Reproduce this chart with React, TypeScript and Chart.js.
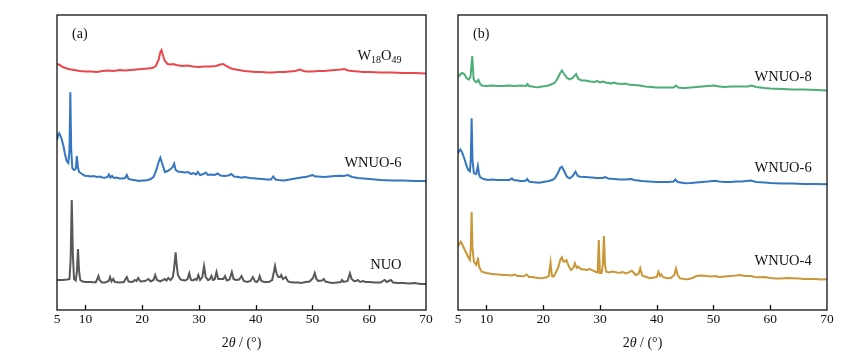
import React, { useEffect, useRef } from 'react';
import { Chart, registerables } from 'chart.js';

Chart.register(...registerables);

const X_MIN = 5;
const X_MAX = 70;
const tickValues = [5, 10, 20, 30, 40, 50, 60, 70];
const innerTicks = [10, 20, 30, 40, 50, 60];
const titleParts = ['2', 'θ', ' / (°)'];

// [2θ, stacked intensity] panel (a)
const w18o49 = [[5,246],[5.5,245],[6,243],[7,241],[8,240],[9,239],[10,238.5],[11,238.5],[12,238],[13,239],[14,239.5],[15,239],[16,240],[17,239.5],[18,240],[19,240.5],[20,241],[21,241.5],[21.8,242],[22.4,244],[22.9,250],[23.2,258],[23.4,260],[23.7,254],[24.0,249],[24.5,246],[25,245.5],[25.5,246],[26,245],[27,244],[28,244.5],[29,243.5],[30,243],[31,243.5],[32,243.5],[33,244],[33.8,245.5],[34.3,246],[34.8,244],[35.5,242],[36,241],[37,240],[38,239],[39,238.5],[40,238],[41,238],[42,237.5],[43,237.5],[44,238],[45,238],[46,238.5],[47,239],[47.8,240.5],[48.4,239],[49,238.5],[50,238.5],[51,239],[52,239],[53,239.5],[54,240],[55,240.5],[55.6,241],[56.3,239.5],[57,239],[58,238.5],[59,238],[60,238],[62,237.5],[64,237.5],[66,237],[68,237],[70,236.5]];
const wnuo6a = [[5,170],[5.2,175],[5.4,176.7],[5.7,173],[6.1,165],[6.4,156],[6.7,149],[7.0,147],[7.2,160],[7.35,217.7],[7.5,160],[7.7,142],[8.0,140],[8.3,141],[8.5,154],[8.7,142],[8.9,138],[9.4,136],[9.9,134.3],[10.5,134],[11,133.5],[11.5,134],[12,133],[12.5,133.5],[13,132.5],[13.4,132.3],[13.9,133],[14.15,135.5],[14.4,132.5],[14.7,134],[15,132],[15.5,132.5],[16,131.5],[16.5,131.5],[17,132],[17.3,135],[17.6,131],[18,130.5],[18.5,130],[19,129.5],[19.5,129],[20,129.5],[20.5,129.5],[21,130],[21.5,131],[22,133],[22.5,140],[22.9,148],[23.2,152.3],[23.5,147],[24,138],[24.5,139],[25,141],[25.4,143],[25.65,146.3],[25.9,140],[26.3,138.5],[27,138],[27.5,137.5],[28.1,138],[28.6,136],[29,137],[29.5,135.5],[29.8,138],[30.2,135],[30.8,136],[31.2,137.5],[31.6,135],[32.2,135.5],[32.8,135],[33.3,136.5],[33.8,134.5],[34.5,134],[35.2,134.5],[35.7,136],[36.2,133.5],[37,133],[37.5,132.3],[38,133],[39,132],[40,131.5],[41,131],[42,130.5],[42.7,130.5],[43.1,133.5],[43.5,130.5],[44,130],[45,129.5],[46,130.5],[47,131.5],[48,132.5],[49,133.3],[50,135],[50.5,133.5],[51,133.5],[52,133],[53,133.5],[54,134],[54.8,134.3],[55.5,134],[56.2,135],[57,133],[58,132],[59,131.5],[60,131],[61,130.5],[62,130],[64,129.5],[66,129.5],[68,129],[70,129]];
const nuo = [[5,30],[6,30],[6.8,30.5],[7.2,31],[7.4,50],[7.6,110],[7.8,55],[8.0,31],[8.3,29.5],[8.5,38],[8.7,61],[8.9,38],[9.1,30],[9.5,28.5],[10,28],[11,28],[11.8,27.5],[12.1,31],[12.3,34],[12.5,30],[12.9,27.5],[13.5,27.5],[14.1,29],[14.35,33],[14.6,28.5],[14.9,31],[15.2,28],[16,27.5],[16.8,28],[17.1,31.5],[17.3,33],[17.6,28.5],[18.3,28],[18.7,30],[19.0,29],[19.3,32],[19.7,28.5],[20.5,29],[21.1,31],[21.5,28.5],[22.0,30],[22.3,35],[22.6,30],[23.2,28.5],[24.0,31],[24.3,29.5],[24.6,32],[25.0,30],[25.4,33],[25.6,40],[25.9,57.7],[26.1,44],[26.3,35],[26.7,31],[27,30],[27.6,29.5],[28.0,31],[28.3,36.7],[28.6,30],[29.0,29.5],[29.3,31],[29.6,30],[29.9,35],[30.2,30],[30.6,33],[30.9,44],[31.2,33],[31.6,30],[31.9,30.5],[32.2,34],[32.5,30],[32.8,31],[33.1,38],[33.4,31],[34,31],[34.3,31],[34.6,34],[34.9,29.5],[35.4,30.5],[35.8,38],[36.1,31],[36.5,30],[37.1,30.5],[37.5,34],[37.9,29],[38.5,28],[39.1,29],[39.5,33],[39.9,28.5],[40.2,28],[40.5,30],[40.7,34],[41.0,29],[41.5,28],[42.3,28],[42.9,30],[43.2,38],[43.4,44],[43.7,36],[44.0,33],[44.3,33],[44.5,35],[44.8,31],[45.1,32],[45.3,33],[45.7,28.5],[46,28],[46.7,27.5],[47.5,27.5],[48,27],[48.8,28],[49.5,28.5],[50.1,32],[50.4,37],[50.7,31],[51,29],[51.7,29.5],[52,31],[52.3,28.5],[53,27.5],[53.5,27],[54.3,27.5],[55.0,28],[55.2,30],[55.5,28],[56.2,29],[56.6,36.7],[56.9,31],[57.3,29],[57.7,29],[58,30],[58.4,28],[59,29],[59.3,28],[60,28],[61,27.5],[62,27.5],[62.7,30],[63.1,28],[63.8,30],[64.2,27.5],[65,27],[66,27],[67,26.5],[68,27],[69,26],[70,26]];

// panel (b)
const wnuo8 = [[5,233],[5.3,235],[5.7,237],[6.1,236],[6.5,232],[6.9,230.5],[7.2,233],[7.5,254],[7.75,231],[8.0,228.5],[8.3,228],[8.6,230],[8.9,226],[9.2,224.5],[10,224],[11,224.5],[12,224],[13,224],[14,224.5],[15,224],[16,224.5],[17,224],[17.2,226],[17.5,224],[18,223.5],[18.5,223],[19.2,222.7],[19.8,223.5],[20.5,224],[21.2,225],[22,227],[22.5,231],[23,237],[23.3,239.5],[23.7,236],[24.2,232],[24.7,230.7],[25.2,232],[25.8,236],[26.2,231],[26.8,229.5],[27.5,229.5],[28.3,228.5],[29,228],[29.5,229],[30,227.5],[30.5,228.5],[31,227.5],[31.5,227],[32,226.5],[32.5,227.5],[33,226.5],[34,226],[34.5,226.5],[35,225.5],[36,225],[37,224.5],[38,223.5],[39,223],[40,222.5],[41,222.5],[42,222.5],[43,222.5],[43.4,224.5],[43.8,222.5],[44.5,222],[45,222],[46,222.5],[47,223],[48,223.5],[49,224],[50.2,224.5],[51,223.5],[52,223],[53,223.5],[54,223.5],[55,223.5],[56,223.5],[56.7,224.5],[57.5,223],[59,222],[60,221.5],[62,221],[64,220.5],[66,220.5],[68,220],[70,219.5]];
const wnuo6b = [[5,156.7],[5.2,159],[5.4,160.5],[5.7,158],[6.2,150],[6.5,144],[6.8,140],[7.1,138.5],[7.25,150],[7.4,191.7],[7.55,150],[7.8,136.7],[8.2,136],[8.5,144],[8.7,136],[8.9,133],[9.5,131],[10.3,130],[11,130.5],[12,130],[13,130],[14,130],[14.5,131.5],[14.8,130],[15.5,129.5],[16,129],[16.5,129],[17,129.5],[17.2,131],[17.5,128.5],[18,128],[19.2,127.3],[20,128],[21,129],[21.6,130],[22.1,132],[22.6,137],[23.0,142],[23.3,143.3],[23.7,139],[24.2,133],[24.7,131.7],[25.2,134],[25.7,138.3],[26.1,134],[26.5,133.3],[27.5,133],[28.5,132.5],[29.5,132],[30.5,132],[30.9,133],[31.5,131.5],[32.5,131],[33.5,130.5],[34.5,130.5],[35.5,131],[36,130],[37.4,129],[38.5,128.5],[40,128],[41,128],[42,128],[43,128.5],[43.3,130.5],[43.7,128],[45,126.7],[46,127],[47,127.5],[48,128],[49,128.5],[50.2,129.3],[51,128.5],[52,128],[53,128],[54,128.5],[55,128.5],[56.6,129.5],[57.5,128],[59,127.5],[60,127],[62,126.5],[64,126.5],[66,126],[68,126],[70,125.7]];
const wnuo4 = [[5,63.3],[5.2,66],[5.5,68.3],[5.8,65],[6.2,60],[6.5,56.7],[6.8,53],[7.1,50],[7.25,62],[7.4,98.3],[7.55,62],[7.8,48.3],[8.2,45],[8.4,49],[8.5,52.7],[8.65,46],[8.8,42],[9.2,38.3],[10,37],[11,36],[12,35.5],[13,35],[13.6,35],[14.5,34.5],[15,35.5],[15.5,34],[16,34],[16.5,33.5],[17.1,35.5],[17.5,33],[18,33],[18.5,32.5],[19.4,31.7],[20,32],[20.6,32.7],[21,34],[21.3,47.3],[21.55,34],[21.8,33.3],[22.2,37],[22.7,43.3],[23.0,50],[23.3,52.7],[23.5,49],[23.7,48.3],[24.1,50],[24.5,44],[24.9,40],[25.3,42],[25.6,46.7],[25.9,42],[26.2,43.3],[26.6,41],[27.2,40.5],[27.7,40],[28.2,41],[28.8,39.3],[29.3,38],[29.6,37.5],[29.8,70],[30.0,37],[30.3,37],[30.5,45],[30.7,74],[30.9,45],[31.1,38.3],[31.6,37.5],[32.2,38.5],[33,37.5],[33.5,37.3],[34,38],[34.6,36.5],[35.2,38],[35.6,39.3],[36,37],[36.3,35],[36.8,36],[37.1,41.7],[37.4,35],[37.6,34],[38.2,33],[38.8,31.7],[39.5,32.5],[40.0,33],[40.3,38.3],[40.6,34],[40.8,35.5],[41.1,33],[41.8,31.7],[42.5,32],[43.1,35],[43.4,41.7],[43.7,35],[44.1,31.7],[44.8,31],[45.5,30.7],[46.3,32],[47,34],[47.8,34.5],[48.8,34],[49.5,33.5],[50.3,34],[51,33],[52,33.5],[53,34],[54,34.5],[54.7,35],[55.5,34],[56.5,34],[57.3,33],[58.2,32.7],[59,33],[60,32],[61,31.5],[62,31.5],[63,32],[64,31.7],[65,31.5],[66,31],[67,31],[68,31],[69,30.5],[70,30.7]];

type Part = { t: string; sub?: boolean };
type Label = { parts: Part[]; x: number; y: number };
type Series = { name: string; data: number[][]; color: string };

const panelA: Series[] = [
  { name: 'W18O49', data: w18o49, color: '#E8474C' },
  { name: 'WNUO-6', data: wnuo6a, color: '#3476C0' },
  { name: 'NUO', data: nuo, color: '#585858' },
];
const panelB: Series[] = [
  { name: 'WNUO-8', data: wnuo8, color: '#4BAE77' },
  { name: 'WNUO-6', data: wnuo6b, color: '#3476C0' },
  { name: 'WNUO-4', data: wnuo4, color: '#C99737' },
];
const labelsA: Label[] = [
  { parts: [{ t: 'W' }, { t: '18', sub: true }, { t: 'O' }, { t: '49', sub: true }], x: 65.7, y: 254 },
  { parts: [{ t: 'WNUO-6' }], x: 65.7, y: 147 },
  { parts: [{ t: 'NUO' }], x: 65.7, y: 45 },
];
const labelsB: Label[] = [
  { parts: [{ t: 'WNUO-8' }], x: 67.3, y: 233 },
  { parts: [{ t: 'WNUO-6' }], x: 67.3, y: 142 },
  { parts: [{ t: 'WNUO-4' }], x: 67.3, y: 49.3 },
];

const SERIF = "'Liberation Serif', 'Times New Roman', serif";

function makeChart(canvas: HTMLCanvasElement, series: Series[], labels: Label[], tag: string, padL: number, padR: number) {
  const deco = {
    id: 'deco',
    afterDraw(chart: any) {
      const { ctx, chartArea, scales } = chart;
      const { left, right, top, bottom } = chartArea;
      const x = scales.x;
      const y = scales.y;
      ctx.save();
      ctx.strokeStyle = '#111';
      ctx.lineWidth = 1.3;
      ctx.strokeRect(left, top, right - left, bottom - top);
      innerTicks.forEach((v) => {
        const px = Math.round(x.getPixelForValue(v)) + 0.5;
        ctx.beginPath();
        ctx.moveTo(px, bottom);
        ctx.lineTo(px, bottom - 5);
        ctx.stroke();
      });
      ctx.fillStyle = '#111';
      ctx.textBaseline = 'middle';
      ctx.textAlign = 'left';
      ctx.font = `14px ${SERIF}`;
      ctx.fillText(tag, left + 15, top + 19);
      labels.forEach((lb) => {
        const fontOf = (p: Part) => (p.sub ? `10px ${SERIF}` : `14.5px ${SERIF}`);
        let total = 0;
        lb.parts.forEach((p) => { ctx.font = fontOf(p); total += ctx.measureText(p.t).width; });
        let cx = x.getPixelForValue(lb.x) - total;
        const cy = y.getPixelForValue(lb.y);
        lb.parts.forEach((p) => {
          ctx.font = fontOf(p);
          ctx.fillText(p.t, cx, p.sub ? cy + 4 : cy);
          cx += ctx.measureText(p.t).width;
        });
      });
      // axis title with italic theta
      const fonts = [`14px ${SERIF}`, `italic 14px ${SERIF}`, `14px ${SERIF}`];
      let tw = 0;
      titleParts.forEach((t, i) => { ctx.font = fonts[i]; tw += ctx.measureText(t).width; });
      let tx = (left + right) / 2 - tw / 2;
      titleParts.forEach((t, i) => {
        ctx.font = fonts[i];
        ctx.fillText(t, tx, 343);
        tx += ctx.measureText(t).width;
      });
      ctx.restore();
    },
  };
  return new Chart(canvas, {
    type: 'line',
    data: {
      datasets: series.map((s) => ({
        label: s.name,
        data: s.data.map(([a, b]) => ({ x: a, y: b })),
        borderColor: s.color,
        backgroundColor: s.color,
        borderWidth: 2,
        pointRadius: 0,
        tension: 0,
        fill: false,
      })),
    },
    options: {
      animation: false,
      responsive: false,
      devicePixelRatio: 1,
      layout: { padding: { left: padL, right: padR, top: 15, bottom: 0 } },
      plugins: { legend: { display: false }, tooltip: { enabled: false } },
      scales: {
        x: {
          type: 'linear',
          min: X_MIN,
          max: X_MAX,
          grid: { display: false, drawTicks: false },
          border: { display: false },
          afterBuildTicks: (axis: any) => { axis.ticks = tickValues.map((v) => ({ value: v })); },
          afterFit: (axis: any) => { axis.height = 48; },
          ticks: {
            autoSkip: false,
            maxRotation: 0,
            padding: 1,
            color: '#111',
            font: { family: SERIF, size: 13.5 },
            callback: (v: any) => String(v),
          },
        },
        y: { display: false, min: 0, max: 295 },
      },
    },
    plugins: [deco],
  } as any);
}

export default function App() {
  const refA = useRef<HTMLCanvasElement>(null);
  const refB = useRef<HTMLCanvasElement>(null);
  useEffect(() => {
    const a = makeChart(refA.current!, panelA, labelsA, '(a)', 57, 14);
    const b = makeChart(refB.current!, panelB, labelsB, '(b)', 18, 35);
    return () => { a.destroy(); b.destroy(); };
  }, []);
  return (
    <div style={{ position: 'fixed', left: 0, top: 0, width: 862, height: 358, background: '#fff' }}>
      <canvas ref={refA} width={440} height={358} style={{ position: 'absolute', left: 0, top: 0, width: 440, height: 358 }} />
      <canvas ref={refB} width={422} height={358} style={{ position: 'absolute', left: 440, top: 0, width: 422, height: 358 }} />
    </div>
  );
}
